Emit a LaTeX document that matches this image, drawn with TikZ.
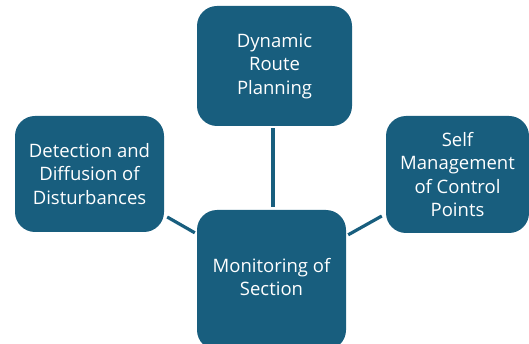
\documentclass[tikz,border=0pt]{standalone}
\usepackage{fontspec}
\setmainfont{Open Sans}
\definecolor{boxblue}{HTML}{185E7E}
\begin{document}
\begin{tikzpicture}[x=1pt,y=1pt,
  box/.style={draw=none, fill=boxblue, rounded corners=20pt, text=white, align=center,
    font=\fontsize{18.5}{23.5}\selectfont, inner sep=0pt},
  link/.style={draw=boxblue, line width=3.2pt}]
\useasboundingbox (0,0) rectangle (529,-344);
\node[box, minimum width=155pt, minimum height=120pt] (top) at (274.5,-66) {Dynamic\\Route\\Planning};
\node[box, minimum width=149pt, minimum height=116pt] (left) at (89.5,-174) {Detection and\\Diffusion of\\Disturbances};
\node[box, minimum width=143pt, minimum height=117pt] (right) at (457.5,-174.5) {Self\\Management\\of Control\\Points};
\node[box, minimum width=149pt, minimum height=140pt] (bottom) at (271.5,-280) {};
\node[text=white, align=center, font=\fontsize{18.5}{23.5}\selectfont] (btext) at (271.5,-277) {Monitoring of\\Section};
\draw[link] ([shift={(-1.5,-2)}]top.south) -- ([shift={(1.5,3)}]bottom.north);
\draw[link] ([shift={(3,-43)}]left.east) -- ([shift={(-2,-23)}]bottom.north west);
\draw[link] ([shift={(2,-25)}]bottom.north east) -- ([shift={(-4,-41.5)}]right.west);
\end{tikzpicture}
\end{document}
